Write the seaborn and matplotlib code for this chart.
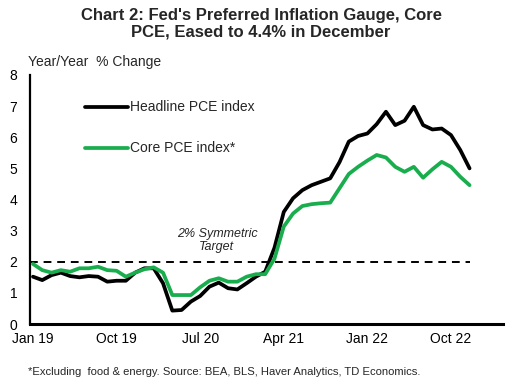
import numpy as np
import pandas as pd
import matplotlib
matplotlib.use("Agg")
import matplotlib.pyplot as plt
import seaborn as sns

months = pd.date_range("2019-01-01", "2022-12-01", freq="MS")
headline = [1.52, 1.41, 1.57, 1.65, 1.54, 1.50, 1.54, 1.52, 1.36, 1.39, 1.39, 1.65,
            1.79, 1.79, 1.31, 0.43, 0.45, 0.72, 0.90, 1.20, 1.33, 1.15, 1.11, 1.31,
            1.52, 1.68, 2.45, 3.60, 4.04, 4.30, 4.46, 4.57, 4.68, 5.20, 5.86, 6.04,
            6.12, 6.42, 6.82, 6.39, 6.53, 6.98, 6.39, 6.25, 6.28, 6.07, 5.59, 5.00]
core = [1.93, 1.73, 1.65, 1.73, 1.68, 1.79, 1.79, 1.84, 1.73, 1.71, 1.52, 1.65,
        1.76, 1.82, 1.65, 0.93, 0.93, 0.93, 1.18, 1.39, 1.47, 1.36, 1.36, 1.52,
        1.60, 1.60, 2.10, 3.13, 3.55, 3.79, 3.85, 3.88, 3.90, 4.36, 4.82, 5.05,
        5.25, 5.43, 5.35, 5.05, 4.89, 5.05, 4.70, 4.97, 5.21, 5.05, 4.73, 4.46]
tick_labels = ["Jan 19", "Oct 19", "Jul 20", "Apr 21", "Jan 22", "Oct 22"]
series_names = ["Headline PCE index", "Core PCE index*"]
target = 2

sns.set_theme(style="white")
plt.rcParams["font.family"] = ["Liberation Sans", "DejaVu Sans"]

idx = np.arange(len(months))
df = pd.DataFrame({
    "m": np.concatenate([idx, idx]),
    "v": headline + core,
    "s": [series_names[0]] * len(idx) + [series_names[1]] * len(idx),
})

fig = plt.figure(figsize=(5.15, 3.84), dpi=100)
ax = fig.add_axes([30/515, 1-324/384, (503-30)/515, (324-75)/384])

ax.plot([idx[0] - 0.3, idx[-1]], [target, target], color="black", lw=1.4,
        ls=(0, (4, 3)), zorder=1)
sns.lineplot(data=df, x="m", y="v", hue="s",
             palette={series_names[0]: "black", series_names[1]: "#1aad4e"},
             lw=2.7, ax=ax, legend=False, zorder=3)

ax.set_xlim(-0.32, 50.6)
ax.set_ylim(0, 8)
ax.set_yticks(range(0, 9))
ax.set_xticks(idx[::9])
ax.set_xticklabels(tick_labels)
ax.set_xlabel("")
ax.set_ylabel("")
ax.tick_params(axis="both", length=0, labelsize=10, colors="black")
ax.tick_params(axis="x", pad=6)
ax.tick_params(axis="y", pad=9)
for s in ["top", "right"]:
    ax.spines[s].set_visible(False)
ax.spines["left"].set_color("black")
ax.spines["left"].set_linewidth(1.6)
ax.spines["bottom"].set_color("black")
ax.spines["bottom"].set_linewidth(2.2)

# legend drawn manually inside axes
ax.plot([5.6, 10.2], [6.98, 6.98], color="black", lw=2.7, solid_capstyle="round")
ax.text(10.4, 6.98, series_names[0], fontsize=10, va="center", ha="left")
ax.plot([5.6, 10.2], [5.65, 5.65], color="#1aad4e", lw=2.7, solid_capstyle="round")
ax.text(10.4, 5.65, series_names[1], fontsize=10, va="center", ha="left")

ax.text(19.8, 2.68, "2% Symmetric\nTarget", fontsize=9, style="italic",
        ha="center", va="center", linespacing=1.05)

fig.text(28/515, 1-62/384, "Year/Year  % Change", fontsize=10, va="center", ha="left")
fig.text(0.507, 1-24/384, "Chart 2: Fed's Preferred Inflation Gauge, Core\nPCE, Eased to 4.4% in December",
         fontsize=12, fontweight="bold", ha="center", va="center", linespacing=1.1)
fig.text(28/515, 1-372/384, "*Excluding  food & energy. Source: BEA, BLS, Haver Analytics, TD Economics.",
         fontsize=8.1, ha="left", va="center")

fig.savefig("out.png", dpi=100)
